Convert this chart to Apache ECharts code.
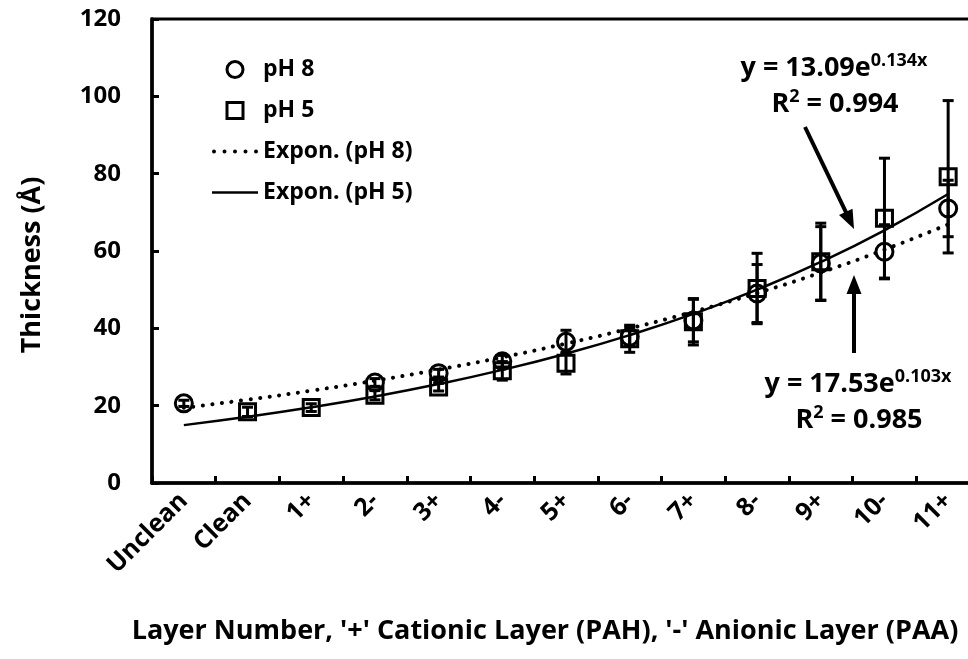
<!DOCTYPE html>
<html>
<head>
<meta charset="utf-8">
<script src="https://cdn.jsdelivr.net/npm/echarts@6/dist/echarts.min.js"></script>
<style>
  html, body { margin: 0; padding: 0; background: #fff; }
  #chart { width: 968px; height: 659px; }
</style>
</head>
<body>
<div id="chart"></div>
<script>
// Layer sequence on the x axis
const categories = ['Unclean', 'Clean', '1+', '2-', '3+', '4-', '5+', '6-', '7+', '8-', '9+', '10-', '11+'];

// Film thickness (Å) and standard deviations per layer
const ph8Values = [20.6, null, null, 26.0, 28.4, 31.5, 36.5, 37.8, 42.0, 49.0, 56.8, 59.8, 71.0];
const ph8Errors = [0.8, null, null, 1.0, 1.0, 1.5, 3.0, 2.5, 5.5, 7.5, 9.5, 7.0, 7.3];
const ph5Values = [null, 18.4, 19.5, 22.7, 24.8, 29.0, 31.0, 37.3, 41.7, 50.3, 57.2, 68.5, 79.2];
const ph5Errors = [null, 1.2, 1.0, 1.2, 1.0, 2.4, 2.8, 3.5, 6.0, 9.1, 10.0, 15.5, 19.7];

// Value axis ticks
const yMin = 0, yMax = 120, yStep = 20;

// Exponential trendlines y = a * e^(b * x), x = category position 1..13
const fitPh8 = { a: 17.53, b: 0.103, r2: '0.985' };
const fitPh5 = { a: 13.09, b: 0.134, r2: '0.994' };

const FONT = '"Open Sans", "Liberation Sans", sans-serif';
const INK = '#000';

function trend(fit) {
  return categories.map((c, i) => +(fit.a * Math.exp(fit.b * (i + 1))).toFixed(3));
}

function errorBars(name, values, errors) {
  const data = [];
  values.forEach((v, i) => {
    if (v != null) data.push([i, v - errors[i], v + errors[i]]);
  });
  return {
    type: 'custom',
    name: name,
    silent: true,
    z: 2,
    data: data,
    encode: { x: 0, y: [1, 2] },
    renderItem: function (params, api) {
      const lo = api.coord([api.value(0), api.value(1)]);
      const hi = api.coord([api.value(0), api.value(2)]);
      const w = 5.5;
      const st = { stroke: INK, lineWidth: 3 };
      return {
        type: 'group',
        children: [
          { type: 'line', shape: { x1: hi[0], y1: hi[1], x2: lo[0], y2: lo[1] }, style: st },
          { type: 'line', shape: { x1: hi[0] - w, y1: hi[1], x2: hi[0] + w, y2: hi[1] }, style: st },
          { type: 'line', shape: { x1: lo[0] - w, y1: lo[1], x2: lo[0] + w, y2: lo[1] }, style: st }
        ]
      };
    }
  };
}

function arrow(x1, y1, x2, y2) {
  const dx = x2 - x1, dy = y2 - y1, L = Math.hypot(dx, dy);
  const ux = dx / L, uy = dy / L;
  const hl = 19, hw = 7.5;
  const bx = x2 - ux * hl, by = y2 - uy * hl;
  return {
    type: 'group',
    children: [
      { type: 'line', shape: { x1: x1, y1: y1, x2: bx + ux * 2, y2: by + uy * 2 }, style: { stroke: INK, lineWidth: 4 } },
      { type: 'polygon', shape: { points: [[x2, y2], [bx - uy * hw, by + ux * hw], [bx + uy * hw, by - ux * hw]] }, style: { fill: INK } }
    ]
  };
}

function equation(x, y, fit) {
  const rich = {
    m: { fontFamily: FONT, fontWeight: 'bold', fontSize: 27, fill: INK, lineHeight: 32 },
    s: { fontFamily: FONT, fontWeight: 'bold', fontSize: 18, fill: INK, lineHeight: 32, verticalAlign: 'top', padding: [0, 0, 12, 0] }
  };
  return [
    {
      type: 'text', x: x, y: y,
      style: { text: '{m|y = ' + fit.a.toFixed(2) + 'e}{s|' + fit.b.toFixed(3) + 'x}', align: 'center', verticalAlign: 'middle', rich: rich }
    },
    {
      type: 'text', x: x + 1, y: y + 36,
      style: { text: '{m|R}{s|2}{m| = ' + fit.r2 + '}', align: 'center', verticalAlign: 'middle', rich: rich }
    }
  ];
}

const chart = echarts.init(document.getElementById('chart'));

const dotted = [0.1, 9.5];
const dotIcon = 'path://M0,2a2,2 0 1,0 4,0a2,2 0 1,0 -4,0Z M10.5,2a2,2 0 1,0 4,0a2,2 0 1,0 -4,0Z M21,2a2,2 0 1,0 4,0a2,2 0 1,0 -4,0Z M31.5,2a2,2 0 1,0 4,0a2,2 0 1,0 -4,0Z M42,2a2,2 0 1,0 4,0a2,2 0 1,0 -4,0Z';
const solidIcon = 'path://M0,0H46V2.6H0Z';
const squareIcon = 'path://M0,0H10V10H0Z';

const markerStyle = { color: 'transparent', borderColor: INK, borderWidth: 3, opacity: 1 };

chart.setOption({
  animation: false,
  backgroundColor: '#fff',
  grid: {
    left: 152, top: 19, right: -12, bottom: 176,
    show: true, borderColor: INK, borderWidth: 3, backgroundColor: 'transparent',
    containLabel: false, outerBoundsMode: 'none'
  },
  legend: {
    orient: 'vertical', left: 212, top: 58, padding: 0,
    itemWidth: 46, itemHeight: 16, itemGap: 18,
    textStyle: { fontFamily: FONT, fontWeight: 'bold', fontSize: 23, color: INK, padding: [0, 0, 0, 0] },
    data: [
      { name: 'pH 8', icon: 'circle', itemStyle: { color: 'transparent', borderColor: INK, borderWidth: 3 } },
      { name: 'pH 5', icon: squareIcon, itemStyle: { color: 'transparent', borderColor: INK, borderWidth: 3 } },
      { name: 'Expon. (pH 8)', icon: dotIcon, itemStyle: { color: INK, borderWidth: 0 } },
      { name: 'Expon. (pH 5)', icon: solidIcon, itemStyle: { color: INK, borderWidth: 0 } }
    ]
  },
  xAxis: {
    type: 'category',
    data: categories,
    boundaryGap: true,
    axisLine: { lineStyle: { color: INK, width: 3.5 } },
    axisTick: { show: true, inside: true, length: 7, alignWithLabel: false, lineStyle: { color: INK, width: 3 } },
    axisLabel: { interval: 0, rotate: 45, margin: 14, fontFamily: FONT, fontWeight: 'bold', fontSize: 25, color: INK },
    splitLine: { show: false },
    name: "Layer Number, '+' Cationic Layer (PAH), '-' Anionic Layer (PAA)",
    nameLocation: 'middle',
    nameGap: 135,
    nameTextStyle: { fontFamily: FONT, fontWeight: 'bold', fontSize: 27, color: INK, padding: [0, 42, 0, 0] }
  },
  yAxis: {
    type: 'value',
    min: yMin, max: yMax, interval: yStep,
    axisLine: { show: true, lineStyle: { color: INK, width: 3.5 } },
    axisTick: { show: true, inside: true, length: 7, lineStyle: { color: INK, width: 3 } },
    axisLabel: { margin: 31, fontFamily: FONT, fontWeight: 'bold', fontSize: 24, color: INK },
    splitLine: { show: false },
    name: 'Thickness (Å)',
    nameLocation: 'middle',
    nameGap: 106,
    nameRotate: 90,
    nameTextStyle: { fontFamily: FONT, fontWeight: 'bold', fontSize: 27, color: INK, padding: [0, 28, 0, 0] }
  },
  series: [
    {
      name: 'Expon. (pH 8)', type: 'line', data: trend(fitPh8), smooth: true,
      symbol: 'none', z: 2, silent: true,
      lineStyle: { color: INK, width: 4, type: dotted, cap: 'round' }
    },
    {
      name: 'Expon. (pH 5)', type: 'line', data: trend(fitPh5), smooth: true,
      symbol: 'none', z: 2, silent: true,
      lineStyle: { color: INK, width: 2.5 }
    },
    errorBars('pH 8 error', ph8Values, ph8Errors),
    errorBars('pH 5 error', ph5Values, ph5Errors),
    {
      name: 'pH 8', type: 'scatter', data: ph8Values.map(v => v == null ? '-' : v),
      symbol: 'circle', symbolSize: 17, z: 3,
      itemStyle: markerStyle
    },
    {
      name: 'pH 5', type: 'scatter', data: ph5Values.map(v => v == null ? '-' : v),
      symbol: 'rect', symbolSize: 16, z: 3,
      itemStyle: markerStyle
    }
  ],
  graphic: [
    ...equation(834, 68, fitPh5),
    ...equation(858, 384, fitPh8),
    arrow(805, 127, 854, 229),
    arrow(854, 353, 854, 275)
  ]
});
</script>
</body>
</html>
